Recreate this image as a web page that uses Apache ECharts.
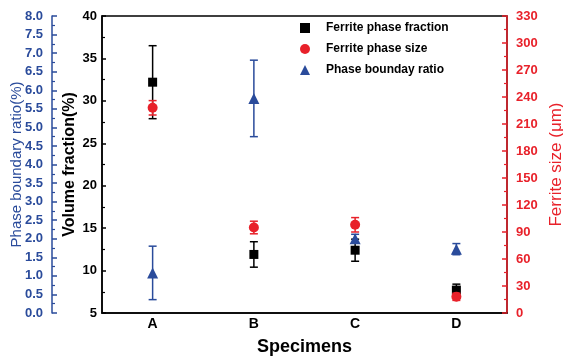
<!DOCTYPE html>
<html>
<head>
<meta charset="utf-8">
<script src="https://cdn.jsdelivr.net/npm/echarts@6/dist/echarts.min.js"></script>
<style>html,body{margin:0;padding:0;background:#fff}#c{width:563px;height:357px}</style>
</head>
<body>
<div id="c"></div>
<script>
const categories = ['A', 'B', 'C', 'D'];
const fraction = [32.2, 11.9, 12.4, 7.7];
const fractionErr = [4.3, 1.5, 1.3, 0.7];
const ferriteSize = [228, 95, 98, 18];
const ferriteSizeErr = [8, 7, 8, 4];
const boundaryRatio = [1.08, 5.78, 2.0, 1.72];
const boundaryRatioErr = [0.72, 1.03, 0.12, 0.15];

const FONT = 'Liberation Sans, Arial, sans-serif';
const BLACK = '#000000';
const RED = '#e8212a';
const BLUE = '#2a4b9b';

function errSeries(vals, errs, yIdx, color, z) {
  return {
    type: 'custom', yAxisIndex: yIdx, z: z, silent: true,
    data: categories.map((c, i) => [i, vals[i], errs[i]]),
    encode: { x: 0, y: 1 },
    renderItem: function (params, api) {
      const x = api.value(0), v = api.value(1), e = api.value(2);
      const t = api.coord([x, v + e]);
      const b = api.coord([x, v - e]);
      const hw = 4;
      const st = { stroke: color, lineWidth: 1.5 };
      return {
        type: 'group',
        children: [
          { type: 'line', shape: { x1: t[0], y1: t[1], x2: b[0], y2: b[1] }, style: st },
          { type: 'line', shape: { x1: t[0] - hw, y1: t[1], x2: t[0] + hw, y2: t[1] }, style: st },
          { type: 'line', shape: { x1: b[0] - hw, y1: b[1], x2: b[0] + hw, y2: b[1] }, style: st }
        ]
      };
    }
  };
}

const chart = echarts.init(document.getElementById('c'));
chart.setOption({
  animation: false,
  textStyle: { fontFamily: FONT },
  grid: { left: 102, right: 56, top: 16, bottom: 44, containLabel: false, outerBoundsMode: 'none',
          show: true, borderColor: BLACK, borderWidth: 1.5, backgroundColor: 'transparent' },
  legend: {
    orient: 'vertical', left: 300, top: 21, padding: 0, itemGap: 7,
    itemWidth: 10, itemHeight: 10,
    textStyle: { fontFamily: FONT, fontWeight: 'bold', fontSize: 12, color: BLACK, padding: [0, 0, 0, 11], lineHeight: 14 },
    data: ['Ferrite phase fraction', 'Ferrite phase size', 'Phase bounday ratio']
  },
  xAxis: {
    type: 'category', data: categories, boundaryGap: true,
    name: 'Specimens', nameLocation: 'middle', nameGap: 25, nameMoveOverlap: false,
    nameTextStyle: { fontFamily: FONT, fontWeight: 'bold', fontSize: 18, color: BLACK },
    axisLine: { lineStyle: { color: BLACK, width: 1.5 } },
    axisTick: { inside: true, length: 6, alignWithLabel: true, lineStyle: { color: BLACK, width: 1.5 } },
    axisLabel: { margin: 4, fontFamily: FONT, fontWeight: 'bold', fontSize: 14, color: BLACK },
    splitLine: { show: false }
  },
  yAxis: [
    {
      type: 'value', position: 'left', min: 5, max: 40, interval: 5,
      name: 'Volume fraction(%)', nameLocation: 'middle', nameGap: 24, nameRotate: 90, nameMoveOverlap: false,
      nameTextStyle: { fontFamily: FONT, fontWeight: 'bold', fontSize: 16, color: BLACK },
      axisLine: { show: true, lineStyle: { color: BLACK, width: 1.5 } },
      axisTick: { show: true, inside: true, length: 4, lineStyle: { color: BLACK, width: 1.5 } },
      minorTick: { show: true, splitNumber: 2, length: 3, lineStyle: { color: BLACK, width: 1.2 } },
      axisLabel: { margin: 5, fontFamily: FONT, fontWeight: 'bold', fontSize: 13, color: BLACK },
      splitLine: { show: false }
    },
    {
      type: 'value', position: 'left', offset: 50, min: 0, max: 8, interval: 0.5,
      name: 'Phase boundary ratio(%)', nameLocation: 'middle', nameGap: 28, nameRotate: 90, nameMoveOverlap: false,
      nameTextStyle: { fontFamily: FONT, fontSize: 15, color: BLUE },
      axisLine: { show: true, lineStyle: { color: BLUE, width: 1.5 } },
      axisTick: { show: true, inside: true, length: 5, lineStyle: { color: BLUE, width: 1.5 } },
      minorTick: { show: true, splitNumber: 2, length: 3, lineStyle: { color: BLUE, width: 1.2 } },
      axisLabel: { margin: 9, fontFamily: FONT, fontWeight: 'bold', fontSize: 13, color: BLUE, formatter: v => v.toFixed(1) },
      splitLine: { show: false }
    },
    {
      type: 'value', position: 'right', min: 0, max: 330, interval: 30,
      name: 'Ferrite size (μm)', nameLocation: 'middle', nameGap: 41, nameRotate: 90, nameMoveOverlap: false,
      nameTextStyle: { fontFamily: FONT, fontSize: 17, color: RED },
      axisLine: { show: true, lineStyle: { color: RED, width: 1.5 } },
      axisTick: { show: true, inside: true, length: 5, lineStyle: { color: RED, width: 1.5 } },
      minorTick: { show: true, splitNumber: 2, length: 3, lineStyle: { color: RED, width: 1.2 } },
      axisLabel: { margin: 9, fontFamily: FONT, fontWeight: 'bold', fontSize: 13, color: RED },
      splitLine: { show: false }
    }
  ],
  series: [
    errSeries(fraction, fractionErr, 0, BLACK, 2),
    { type: 'scatter', name: 'Ferrite phase fraction', yAxisIndex: 0, z: 3, symbol: 'rect', symbolSize: 9,
      itemStyle: { color: BLACK, opacity: 1 }, emphasis: { disabled: true }, data: fraction },
    errSeries(ferriteSize, ferriteSizeErr, 2, RED, 4),
    { type: 'scatter', name: 'Ferrite phase size', yAxisIndex: 2, z: 5, symbol: 'circle', symbolSize: 10,
      itemStyle: { color: RED, opacity: 1 }, emphasis: { disabled: true }, data: ferriteSize },
    errSeries(boundaryRatio, boundaryRatioErr, 1, BLUE, 6),
    { type: 'scatter', name: 'Phase bounday ratio', yAxisIndex: 1, z: 7, symbol: 'triangle', symbolSize: 11,
      itemStyle: { color: BLUE, opacity: 1 }, emphasis: { disabled: true }, data: boundaryRatio }
  ]
});
</script>
</body>
</html>
